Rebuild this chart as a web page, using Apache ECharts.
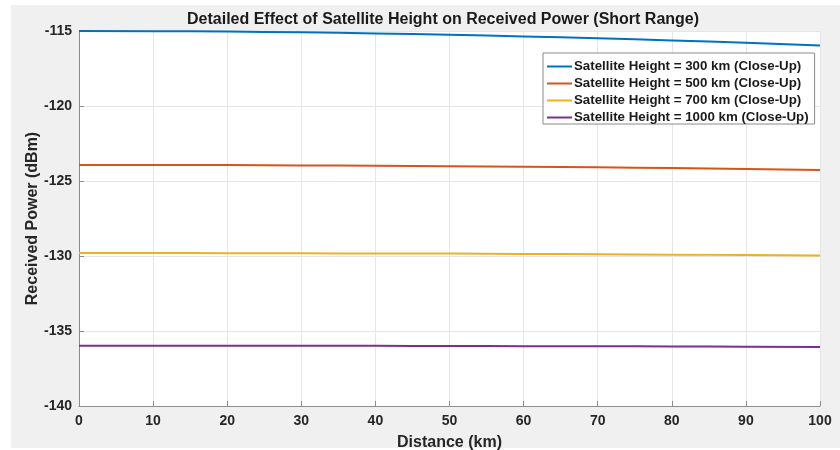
<!DOCTYPE html>
<html>
<head>
<meta charset="utf-8">
<script src="https://cdn.jsdelivr.net/npm/echarts@6/dist/echarts.min.js"></script>
<style>
  html, body { margin: 0; padding: 0; background: #fff; }
  #chart { width: 840px; height: 450px; }
</style>
</head>
<body>
<div id="chart"></div>
<script>
// distance in km
const distance = [0, 10, 20, 30, 40, 50, 60, 70, 80, 90, 100];
// received power in dBm
const h300 = [-115.00, -115.01, -115.04, -115.09, -115.16, -115.25, -115.36, -115.49, -115.63, -115.79, -115.96];
const h500 = [-123.93, -123.93, -123.94, -123.96, -123.98, -124.01, -124.05, -124.09, -124.14, -124.20, -124.27];
const h700 = [-129.80, -129.80, -129.81, -129.82, -129.83, -129.84, -129.86, -129.88, -129.91, -129.94, -129.97];
const h1000 = [-135.98, -135.98, -135.98, -135.99, -135.99, -136.00, -136.01, -136.02, -136.03, -136.05, -136.07];
const seriesNames = [
  "Satellite Height = 300 km (Close-Up)",
  "Satellite Height = 500 km (Close-Up)",
  "Satellite Height = 700 km (Close-Up)",
  "Satellite Height = 1000 km (Close-Up)"
];
const colors = ["#0072BD", "#D95319", "#EDB120", "#7E2F8E"];

const font = "Liberation Sans, Arial, Helvetica, sans-serif";
const chart = echarts.init(document.getElementById("chart"));

function pairs(ys) {
  return distance.map((d, i) => [d, ys[i]]);
}

const allData = [h300, h500, h700, h1000];

chart.setOption({
  animation: false,
  color: colors,
  graphic: [{
    type: "rect",
    z: -10,
    silent: true,
    shape: { x: 11, y: 5, width: 829, height: 443 },
    style: { fill: "#f0f0f0" }
  }],
  title: {
    text: "Detailed Effect of Satellite Height on Received Power (Short Range)",
    left: 182,
    top: 7,
    textStyle: { fontFamily: font, fontSize: 16, fontWeight: "bold", color: "#1a1a1a" }
  },
  grid: {
    left: 79, right: 20, top: 31, bottom: 44,
    outerBoundsMode: "none",
    containLabel: false,
    show: true, backgroundColor: "#ffffff", borderWidth: 0
  },
  legend: {
    orient: "vertical",
    left: 543,
    top: 53,
    padding: [7, 6, 0, 3],
    itemWidth: 25,
    itemHeight: 14,
    itemGap: 4,
    itemStyle: { opacity: 0 },
    lineStyle: { width: 2 },
    backgroundColor: "#ffffff",
    borderColor: "#8a8a8a",
    borderWidth: 1,
    textStyle: { fontFamily: font, fontSize: 13.3, fontWeight: "bold", color: "#1a1a1a", padding: [0, 0, 0, -3] },
    data: seriesNames
  },
  xAxis: {
    type: "value",
    min: 0, max: 100, interval: 10,
    name: "Distance (km)",
    nameLocation: "middle",
    nameGap: 29,
    nameMoveOverlap: false,
    nameTextStyle: { fontFamily: font, fontSize: 16, fontWeight: "bold", color: "#262626" },
    axisLine: { lineStyle: { color: "#8c8c8c" } },
    axisTick: { inside: true, length: 5, lineStyle: { color: "#8c8c8c" } },
    axisLabel: { fontFamily: font, fontSize: 14, fontWeight: "bold", color: "#262626", margin: 8 },
    splitLine: { show: true, lineStyle: { color: "#e6e6e6" } }
  },
  yAxis: {
    type: "value",
    min: -140, max: -115, interval: 5,
    name: "Received Power (dBm)",
    nameLocation: "middle",
    nameGap: 38,
    nameMoveOverlap: false,
    nameTextStyle: { fontFamily: font, fontSize: 16, fontWeight: "bold", color: "#262626" },
    axisLine: { show: true, lineStyle: { color: "#8c8c8c" } },
    axisTick: { show: true, inside: true, length: 5, lineStyle: { color: "#8c8c8c" } },
    axisLabel: { fontFamily: font, fontSize: 14, fontWeight: "bold", color: "#262626", margin: 7 },
    splitLine: { show: true, lineStyle: { color: "#e6e6e6" } }
  },
  series: seriesNames.map((name, i) => ({
    name: name,
    type: "line",
    smooth: true,
    symbol: "none",
    lineStyle: { width: 2 },
    data: pairs(allData[i])
  }))
});
</script>
</body>
</html>
